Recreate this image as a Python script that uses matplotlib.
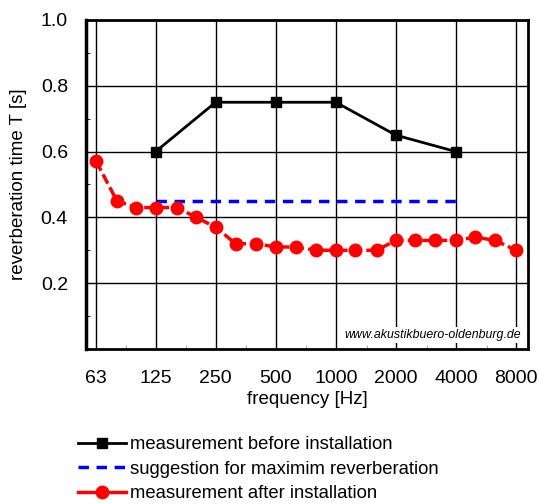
import matplotlib
matplotlib.use("Agg")
import matplotlib.pyplot as plt
from matplotlib.ticker import FixedLocator, NullFormatter, MultipleLocator

plt.rcParams['font.family'] = ['Liberation Sans', 'DejaVu Sans']

freq_before = [125, 250, 500, 1000, 2000, 4000]
t_before = [0.60, 0.75, 0.75, 0.75, 0.65, 0.60]

freq_suggest = [125, 4000]
t_suggest = [0.45, 0.45]

freq_after = [63, 80, 100, 125, 160, 200, 250, 315, 400, 500, 630, 800,
              1000, 1250, 1600, 2000, 2500, 3150, 4000, 5000, 6300, 8000]
t_after = [0.57, 0.45, 0.43, 0.43, 0.43, 0.40, 0.37, 0.32, 0.32, 0.31, 0.31, 0.30,
           0.30, 0.30, 0.30, 0.33, 0.33, 0.33, 0.33, 0.34, 0.33, 0.30]

xticks = [63, 125, 250, 500, 1000, 2000, 4000, 8000]
xtick_labels = ["63", "125", "250", "500", "1000", "2000", "4000", "8000"]
yticks = [0.2, 0.4, 0.6, 0.8, 1.0]

fig = plt.figure(figsize=(5.39, 5.04), dpi=100)
ax = fig.add_axes([86/539, 1-349/504, (528-86)/539, (349-20)/504])

ax.set_xscale('log', base=2)
ax.set_xlim(63 * 2**(-0.17), 8000 * 2**(0.2))
ax.set_ylim(0, 1.0)

ax.xaxis.set_major_locator(FixedLocator(xticks))
ax.set_xticklabels(xtick_labels)
ax.xaxis.set_minor_locator(FixedLocator([63*2**0.5*2**i for i in range(7)]))
ax.xaxis.set_minor_formatter(NullFormatter())
ax.yaxis.set_major_locator(FixedLocator(yticks))
ax.set_yticklabels([f"{v:.1f}" for v in yticks])
ax.yaxis.set_minor_locator(MultipleLocator(0.1))

ax.grid(True, which='major', color='black', linewidth=1.0)
ax.set_axisbelow(True)

ax.tick_params(axis='x', which='major', length=0, labelsize=14, pad=15)
ax.tick_params(axis='y', which='major', length=0, labelsize=14, pad=13)
ax.tick_params(axis='x', which='minor', direction='in', length=3, color='#999999')
ax.tick_params(axis='y', which='minor', direction='in', length=3, color='black')
for s in ax.spines.values():
    s.set_linewidth(2)
ax.spines['left'].set_linewidth(2.5)

l1, = ax.plot(freq_before, t_before, color='black', marker='s', markersize=7.5,
              linewidth=2, label='measurement before installation', zorder=4)
l2, = ax.plot(freq_suggest, t_suggest, color='#0000ff', linestyle=(0, (3, 2.2)),
              linewidth=2.5, label='suggestion for maximim reverberation', zorder=3)
l3, = ax.plot(freq_after, t_after, color='#ff0000', marker='o', markersize=9,
              linewidth=2.5, linestyle=(0, (3, 1.2)), label='measurement after installation', zorder=5)

ax.set_ylabel('reverberation time T [s]', fontsize=13.5, labelpad=10)
ax.set_xlabel('frequency [Hz]', fontsize=13.5, labelpad=3)

ax.text(0.985, 0.025, 'www.akustikbuero-oldenburg.de', transform=ax.transAxes,
        ha='right', va='bottom', fontsize=8.9, style='italic',
        bbox=dict(facecolor='white', edgecolor='none', pad=1.5), zorder=6)

l3.set_linestyle('-')
leg = fig.legend(handles=[l1, l2, l3], loc='upper left',
                 bbox_to_anchor=(71/539, 1-429/504), frameon=False,
                 fontsize=13.3, handlelength=2.6, handletextpad=0.2,
                 labelspacing=0.4, borderaxespad=0)
l3.set_linestyle((0, (3, 1.2)))

fig.savefig('out.png', dpi=100)
